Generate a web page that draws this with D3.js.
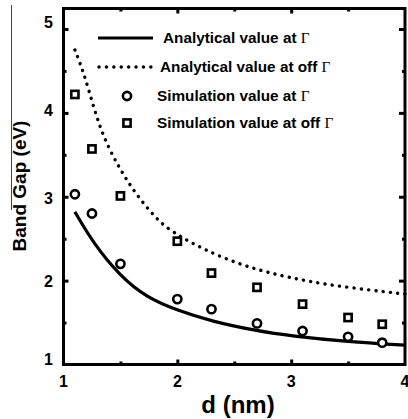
<!DOCTYPE html>
<html><head><meta charset="utf-8">
<script src="https://cdn.jsdelivr.net/npm/d3@7"></script>
<style>
html,body{margin:0;padding:0;background:#fff;overflow:hidden}
svg{display:block}
text{font-family:"Liberation Sans",Arial,Helvetica,sans-serif;font-weight:bold;fill:#000}
</style></head>
<body>
<script>
// ---- data ----
const simX = [1.1, 1.25, 1.5, 2.0, 2.3, 2.7, 3.1, 3.5, 3.8];
const simGamma = [3.03, 2.80, 2.20, 1.78, 1.66, 1.49, 1.40, 1.33, 1.26];
const simOffGamma = [4.22, 3.57, 3.01, 2.47, 2.09, 1.92, 1.72, 1.56, 1.48];
const anaGammaX = [1.10, 1.26, 1.5, 1.73, 2.0, 2.3, 2.7, 3.0, 3.5, 4.0];
const anaGammaY = [2.82, 2.45, 2.05, 1.80, 1.645, 1.515, 1.40, 1.34, 1.27, 1.23];
const anaOffX = [1.10, 1.19, 1.32, 1.48, 1.64, 1.85, 2.0, 2.11, 2.38, 2.67, 2.97, 3.35, 4.0];
const anaOffY = [4.75, 4.44, 3.79, 3.36, 3.02, 2.68, 2.55, 2.46, 2.28, 2.14, 2.04, 1.94, 1.84];
const xTicks = [1, 2, 3, 4];
const yTicks = [1, 2, 3, 4, 5];
const xMinor = [1.5, 2.5, 3.5];
const yMinor = [1.5, 2.5, 3.5, 4.5];
const legendLabels = ["Analytical value at ", "Analytical value at off ", "Simulation value at ", "Simulation value at off "];
const xTitle = "d (nm)";
const yTitle = "Band Gap (eV)";

const W = 408, H = 419;
const svg = d3.select("body").append("svg").attr("width", W).attr("height", H);

const x = d3.scaleLinear().domain([1, 4]).range([63.5, 405]);
const y = d3.scaleLinear().domain([1, 5]).range([364.5, 29]);
const yTop = y.invert(8.5);

// stray thin line at left
svg.append("line").attr("x1", 11.5).attr("x2", 11.5).attr("y1", 5).attr("y2", 210)
  .attr("stroke", "#444").attr("stroke-width", 1);

const g = svg.append("g");

function tickAxis(axisFn, scale, vals, size, transform) {
  const a = g.append("g").attr("transform", transform)
    .call(axisFn(scale).tickValues(vals).tickSize(size).tickSizeOuter(0).tickFormat(""));
  a.select(".domain").remove();
  a.selectAll("line").attr("stroke", "#000").attr("stroke-width", 3);
}
// inward ticks on all four sides
tickAxis(d3.axisBottom, x, xTicks.slice(1, 3), -5, `translate(0,${y(1)})`);
tickAxis(d3.axisBottom, x, xMinor, -3, `translate(0,${y(1)})`);
tickAxis(d3.axisTop, x, xTicks.slice(1, 3), -5, `translate(0,${y(yTop)})`);
tickAxis(d3.axisTop, x, xMinor, -3, `translate(0,${y(yTop)})`);
tickAxis(d3.axisLeft, y, yTicks.slice(1), -5, `translate(${x(1)},0)`);
tickAxis(d3.axisLeft, y, yMinor, -3, `translate(${x(1)},0)`);
tickAxis(d3.axisRight, y, yTicks.slice(1), -6, `translate(${x(4)},0)`);
tickAxis(d3.axisRight, y, yMinor, -3, `translate(${x(4)},0)`);

// frame
g.append("rect").attr("x", x(1)).attr("y", y(yTop))
  .attr("width", x(4) - x(1)).attr("height", y(1) - y(yTop))
  .attr("fill", "none").attr("stroke", "#000").attr("stroke-width", 3);

// tick labels
g.selectAll(".xl").data(xTicks).join("text")
  .attr("x", d => x(d)).attr("y", y(1) + 22.5)
  .attr("text-anchor", "middle").attr("font-size", 16).text(d => d);
const yOff = v => v === 5 ? -6.5 : v === 4 ? -3 : v === 1 ? -5.5 : 1;
g.selectAll(".yl").data(yTicks).join("text")
  .attr("x", 53).attr("y", d => y(d) + yOff(d) + 5.8)
  .attr("text-anchor", "end").attr("font-size", 16).text(d => d);

// axis titles
svg.append("text").attr("x", 238).attr("y", 413).attr("text-anchor", "middle")
  .attr("font-size", 24).text(xTitle);
svg.append("text").attr("transform", "translate(26,186) rotate(-90)")
  .attr("text-anchor", "middle").attr("font-size", 19).text(yTitle);

// curves
const line = d3.line().x(d => x(d[0])).y(d => y(d[1])).curve(d3.curveBasis);
g.append("path").datum(d3.zip(anaGammaX, anaGammaY)).attr("d", line)
  .attr("fill", "none").attr("stroke", "#000").attr("stroke-width", 3.2);
g.append("path").datum(d3.zip(anaOffX, anaOffY)).attr("d", line)
  .attr("fill", "none").attr("stroke", "#000").attr("stroke-width", 3.4)
  .attr("stroke-dasharray", "0.1 7.2").attr("stroke-linecap", "round");

// markers
const hs = 3.6, cr = 4.1;
g.selectAll(".sq").data(d3.zip(simX, simOffGamma)).join("rect")
  .attr("x", d => x(d[0]) - hs).attr("y", d => y(d[1]) - hs)
  .attr("width", 2 * hs).attr("height", 2 * hs)
  .attr("fill", "#fff").attr("stroke", "#000").attr("stroke-width", 2.6);
g.selectAll(".ci").data(d3.zip(simX, simGamma)).join("circle")
  .attr("cx", d => x(d[0])).attr("cy", d => y(d[1])).attr("r", cr)
  .attr("fill", "#fff").attr("stroke", "#000").attr("stroke-width", 2.6);

// legend
const lg = svg.append("g");
const rowsY = [38, 67, 96, 123];
const textX = [163, 160, 157, 157];
lg.append("line").attr("x1", 98).attr("x2", 153).attr("y1", rowsY[0]).attr("y2", rowsY[0])
  .attr("stroke", "#000").attr("stroke-width", 3.2);
lg.append("line").attr("x1", 99).attr("x2", 151).attr("y1", rowsY[1]).attr("y2", rowsY[1])
  .attr("stroke", "#000").attr("stroke-width", 3.4)
  .attr("stroke-dasharray", "0.1 7.3").attr("stroke-linecap", "round");
lg.append("circle").attr("cx", 127).attr("cy", rowsY[2]).attr("r", cr)
  .attr("fill", "#fff").attr("stroke", "#000").attr("stroke-width", 2.6);
lg.append("rect").attr("x", 127 - hs).attr("y", rowsY[3] - hs).attr("width", 2 * hs).attr("height", 2 * hs)
  .attr("fill", "#fff").attr("stroke", "#000").attr("stroke-width", 2.6);
legendLabels.forEach((t, i) => {
  const tx = lg.append("text").attr("x", textX[i]).attr("y", rowsY[i] + 5.4).attr("font-size", 15.3);
  tx.append("tspan").text(t);
  tx.append("tspan").attr("font-family", "'Liberation Serif','Times New Roman',serif")
    .attr("font-weight", "normal").attr("font-size", 15.3).text("Γ");
});
</script>
</body></html>
